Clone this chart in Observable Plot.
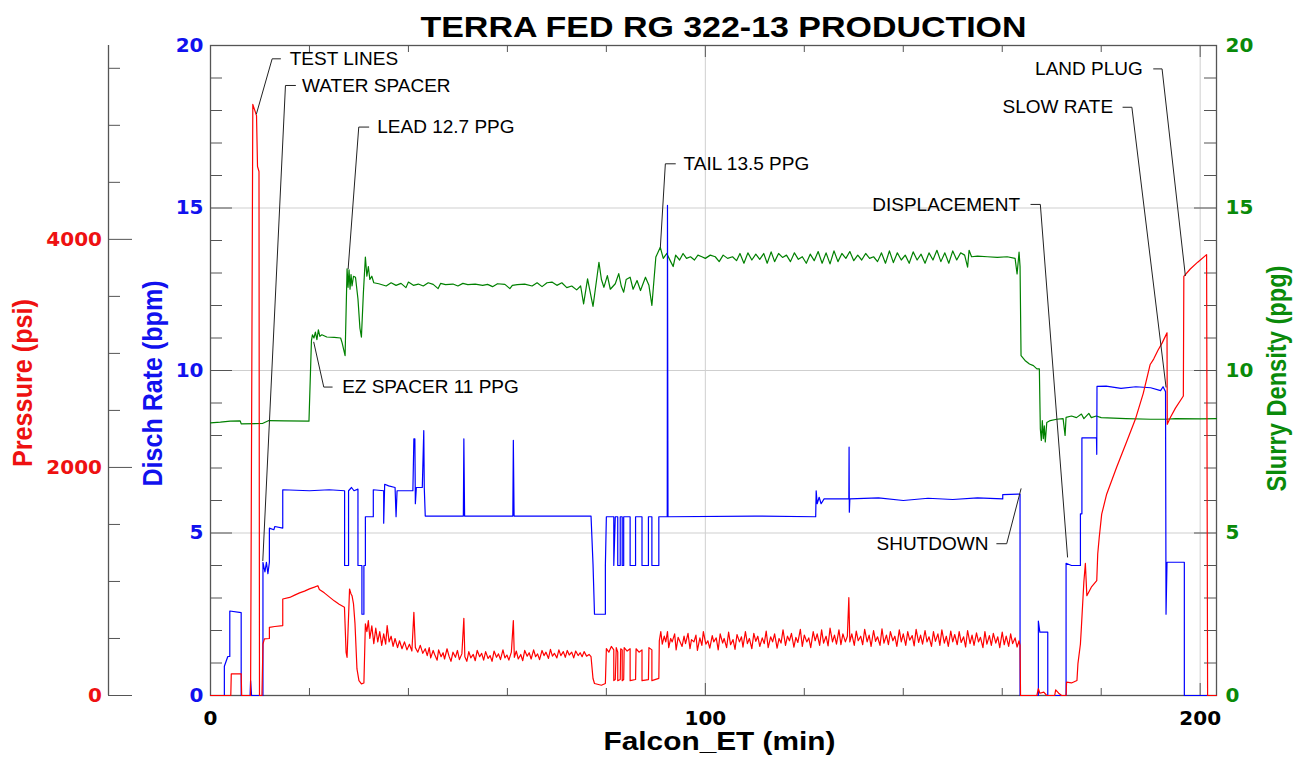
<!DOCTYPE html>
<html>
<head>
<meta charset="utf-8">
<script src="https://cdn.jsdelivr.net/npm/d3@7"></script>
<script src="https://cdn.jsdelivr.net/npm/@observablehq/plot@0.6"></script>
<style>body{margin:0;background:#fff}</style>
</head>
<body>
<div id="chart"></div>
<script>
// ---------- text ----------
const chartTitle = "TERRA FED RG 322-13 PRODUCTION";
const xLabel = "Falcon_ET (min)";
const pressureLabel = "Pressure (psi)";
const rateLabel = "Disch Rate (bpm)";
const densityLabel = "Slurry Density (ppg)";

// ---------- ticks ----------
const xTickLabels = [0, 100, 200];
const xMinorTicks = [20, 40, 60, 80, 120, 140, 160, 180];
const xMajorTicks = [100, 200];
const rateTickLabels = [0, 5, 10, 15, 20];
const rateMinorTicks = [1,2,3,4,6,7,8,9,11,12,13,14,16,17,18,19];
const densityTickLabels = [0, 5, 10, 15, 20];
const pressureTickLabels = [0, 2000, 4000];
const pressureMinorTicks = [500,1000,1500,2500,3000,3500,4500,5000,5500];
const pressureMax = 5700;   // top of pressure axis (rate axis top = 20)
const xMax = 203.3;

// ---------- series: [minutes, value] ----------
const rate = [
[0,0],[2.8,0],[2.8,0.9],[3.5,1.2],[3.9,1.2],[3.9,2.6],[6.2,2.55],[6.2,0],[8.0,0],[8.1,0.45],[8.3,0],
[10.6,0],[10.6,4.1],[11.0,3.8],[11.3,4.1],[11.6,3.75],[11.9,4.1],[11.9,5.15],[12.8,5.1],[13,5.2],[14.6,5.15],
[14.6,6.33],[20,6.3],[24,6.33],[27.1,6.3],[27.1,4.0],[27.9,4.0],[27.9,6.3],[28.5,6.4],[29.0,6.3],[29.8,6.35],
[29.8,4.0],[30.6,4.0],[30.6,2.5],[31.0,2.5],[31.0,4.0],[31.3,4.0],[31.3,5.5],[32.9,5.5],[32.9,6.33],[35.0,6.3],
[35.0,5.3],[35.2,6.5],[36,6.45],[37.3,6.4],[37.5,5.5],[37.7,6.3],[40.9,6.3],[41.1,7.9],[41.3,7.9],[41.4,5.9],
[41.6,6.4],[42.8,6.4],[43.1,8.15],[43.2,6.4],[43.4,5.52],[51.1,5.52],[51.2,7.9],[51.35,5.52],[61.1,5.52],
[61.2,7.85],[61.35,5.52],[76.9,5.52],[77.3,4.05],[77.6,2.5],[79.8,2.5],[79.8,4.0],[80.0,5.5],[81.5,5.5],
[81.5,4.0],[81.8,5.5],[82.3,5.5],[82.3,4.0],[82.8,4.0],[82.8,5.5],[83.2,5.5],[83.2,4.0],[83.5,4.0],[83.5,5.5],
[84.8,5.5],[84.8,4.0],[85.9,4.0],[85.9,5.5],[87.2,5.5],[87.2,4.0],[88.5,4.0],[88.5,5.5],[89.2,5.5],[89.2,4.0],
[90.6,4.0],[90.6,5.5],[92.3,5.5],[92.35,15.08],[92.45,5.5],[110,5.52],[122.3,5.5],[122.4,6.3],[122.6,5.9],
[123,6.1],[123.4,5.9],[124,6.05],[129,6.05],[129.05,7.64],[129.1,5.64],[129.2,6.05],[135,6.08],[140,6.0],
[145,6.07],[150,6.03],[155,6.08],[160.1,6.05],[160.1,6.18],[163.6,6.2],[163.6,0],[167.3,0],[167.3,2.29],
[167.6,1.95],[169.2,1.95],[169.2,0],[172.9,0],[172.9,4.07],[174,4.0],[175.8,4.0],[175.8,5.59],[176.1,5.59],
[176.1,7.93],[179.05,7.93],[179.1,7.42],[179.15,9.51],[181,9.52],[184,9.45],[187,9.5],[190,9.47],[192,9.38],
[192.5,9.5],[193.0,9.35],[193.1,2.5],[193.3,4.1],[196.8,4.1],[196.8,0],[203.3,0]
];

const pressure = [
[0,0],[4.1,0],[4.2,190],[6.2,190],[6.3,0],[8.1,0],[8.55,5184],[9.3,5085],[9.5,4639],[9.8,4595],[9.9,0],
[10.4,0],[10.6,452],[10.9,496],[11.9,500],[11.9,598],[13,605],[14.6,613],[14.6,846],[16,860],[17,880],
[18,900],[19,915],[20,935],[21,950],[21.7,963],[22,930],[23,900],[24,865],[25,830],[26,800],[27.07,773],
[27.4,379],[27.6,335],[28.1,934],[28.4,890],[28.6,875],[28.9,803],[29.2,630],[29.6,233],[30,131],[30.5,102],
[31.0,110],[31.3,628],[31.6,560],[31.9,657],[32.2,500],[32.6,610],[33.0,455],[33.4,590],[33.8,470],[34.2,560],
[34.6,440],[35.0,540],[35.4,450],[35.7,613],[36.1,470],[36.5,520],[36.9,430],[37.3,500],[37.8,420],[38.2,480],
[38.7,410],[39.2,470],[39.7,400],[40.2,450],[40.7,390],[41.1,729],[41.4,420],[41.9,380],[42.4,440],[42.9,370],
[43.4,410],[43.8,350],[44.2,420],[44.5,330],[45.0,395],[45.3,360],[45.8,310],[46.1,400],[46.6,340],[47.0,375],
[47.3,320],[47.8,410],[48.2,345],[48.6,300],[49.0,380],[49.5,335],[49.9,395],[50.3,315],[50.8,365],[51.2,677],
[51.4,340],[51.8,300],[52.2,385],[52.6,330],[53.1,360],[53.5,305],[53.9,395],[54.4,340],[54.8,370],[55.2,310],
[55.6,385],[56.1,325],[56.5,350],[56.9,300],[57.3,390],[57.8,335],[58.2,365],[58.6,315],[59.1,400],[59.5,330],
[59.9,355],[60.3,310],[60.8,380],[61.2,657],[61.4,335],[61.8,390],[62.2,320],[62.7,360],[63.1,305],[63.5,395],
[64.0,345],[64.4,375],[64.8,320],[65.3,400],[65.7,340],[66.1,365],[66.5,315],[67.0,395],[67.4,350],[67.8,380],
[68.3,325],[68.7,405],[69.1,345],[69.5,370],[70.0,330],[70.4,400],[70.8,350],[71.3,385],[71.7,335],[72.1,395],
[72.5,355],[73.0,380],[73.4,330],[73.8,390],[74.3,350],[74.7,375],[75.1,340],[75.5,385],[76.0,345],[76.5,360],
[76.9,340],[77.3,149],[77.6,105],[79.0,90],[79.8,105],[80.0,411],[80.5,380],[81.0,430],[81.5,400],[81.5,131],
[81.8,140],[82.0,420],[82.3,380],[82.3,130],[82.8,140],[82.9,410],[83.2,400],[83.2,130],[83.5,140],[83.6,420],
[84.2,390],[84.8,410],[84.8,130],[85.9,140],[86.0,410],[86.6,380],[87.2,400],[87.2,130],[88.5,140],[88.6,420],
[89.2,400],[89.2,130],[90.6,150],
[90.7,480],[91.0,560],[91.3,450],[91.7,520],[92.0,470],[92.35,560],[92.6,420],[93.0,500],[93.3,470],[93.8,540],
[94.1,400],[94.5,510],[94.8,480],[95.3,430],[95.7,520],[96.0,455],[96.5,545],[96.9,410],[97.2,490],[97.7,470],
[98.1,530],[98.4,395],[98.9,505],[99.3,440],[99.6,560],[100.1,450],[100.5,480],[100.9,415],[101.4,525],[101.7,470],
[102.2,505],[102.6,400],[103.0,540],[103.5,460],[103.8,500],[104.3,420],[104.7,555],[105.1,445],[105.6,490],
[106.0,405],[106.4,535],[106.9,470],[107.3,515],[107.6,425],[108.1,560],[108.5,455],[108.9,500],[109.4,410],
[109.8,545],[110.2,475],[110.6,520],[111.0,430],[111.5,505],[111.9,455],[112.3,565],[112.7,420],[113.2,515],
[113.6,470],[114.0,540],[114.5,415],[114.9,500],[115.3,460],[115.7,575],[116.2,440],[116.6,520],[117.0,480],
[117.4,545],[117.9,425],[118.3,510],[118.7,465],[119.2,580],[119.6,430],[120.0,530],[120.5,470],[120.9,505],
[121.3,420],[121.8,560],[122.2,480],[122.6,540],[123.1,440],[123.5,575],[123.9,460],[124.4,520],[124.8,435],
[125.2,590],[125.7,470],[126.1,530],[126.5,450],[127.0,575],[127.4,445],[127.8,540],[128.3,470],[128.7,520],
[129.0,858],[129.2,470],[129.6,540],[130.1,440],[130.5,565],[130.9,480],[131.4,520],[131.8,445],[132.2,580],
[132.7,470],[133.1,530],[133.5,430],[134.0,570],[134.4,475],[134.8,515],[135.3,440],[135.7,585],[136.1,460],
[136.6,530],[137.0,445],[137.4,560],[137.9,480],[138.3,520],[138.7,430],[139.2,575],[139.6,470],[140.0,540],
[140.5,440],[140.9,560],[141.3,485],[141.8,525],[142.2,435],[142.6,580],[143.1,465],[143.5,530],[143.9,450],
[144.4,570],[144.8,470],[145.2,515],[145.7,430],[146.1,560],[146.5,475],[147.0,540],[147.4,440],[147.8,575],
[148.3,460],[148.7,520],[149.1,430],[149.6,565],[150.0,470],[150.4,535],[150.9,445],[151.3,560],[151.7,465],
[152.2,515],[152.6,425],[153.0,570],[153.5,455],[153.9,530],[154.3,440],[154.8,550],[155.2,470],[155.6,510],
[156.1,420],[156.5,560],[156.9,450],[157.4,525],[157.8,440],[158.2,545],[158.7,460],[159.1,515],[159.5,420],
[160.0,555],[160.4,445],[160.8,520],[161.3,430],[161.7,540],[162.1,455],[162.6,505],[163.0,425],[163.4,480],
[163.6,440],[163.7,0],[167.0,0],[167.3,60],[167.6,20],[168.4,30],[169,0],[170.6,0],
[170.8,50],[171.4,20],[172,0],[172.9,0],[173.0,117],[174,110],[175.1,131],[175.3,280],[175.8,452],[176.0,600],
[176.5,1000],[176.8,1158],[177.1,875],[178,950],[179.1,1007],[179.3,1243],[179.6,1386],[180.1,1590],[181.1,1765],
[183.1,1999],[185.2,2232],[186.9,2422],[188.5,2650],[189.9,2903],[190.6,2950],[191.5,3030],[192.3,3090],
[193.3,3180],[193.35,2378],[194,2440],[195,2520],[196.6,2626],[196.7,3676],[198,3740],[199.5,3800],
[201.3,3866],[201.5,0],[203.3,0]
];

const density = [
[0,8.39],[2,8.41],[4,8.44],[6,8.45],[6.2,8.36],[10.5,8.37],[11.8,8.46],[15,8.45],[19.9,8.44],[20.4,10.92],
[20.6,11.1],[20.9,11.0],[21.2,11.18],[21.5,10.95],[21.8,11.25],[22.1,11.05],[22.5,11.1],[23.5,11.03],[25,11.02],
[26.3,11.0],[26.6,10.85],[27.2,10.46],[27.6,13.13],[27.8,12.56],[28.0,13.1],[28.2,12.5],[28.4,12.95],[28.6,12.6],
[28.9,12.9],[29.3,12.87],[29.8,12.2],[30.2,11.3],[30.5,11.03],[30.9,12.4],[31.3,13.49],[31.6,12.9],[31.9,13.2],
[32.2,12.8],[32.6,12.9],[33,12.7],[34,12.67],[35.5,12.6],[36.5,12.7],[37.5,12.62],[38.5,12.68],[39.5,12.55],
[40,12.72],[41,12.62],[42,12.66],[43,12.6],[44,12.7],[45,12.65],[46,12.52],[46.5,12.68],[47.5,12.64],[49,12.66],
[50,12.6],[51,12.68],[52,12.64],[53.5,12.66],[55,12.62],[56,12.65],[57,12.58],[58,12.67],[59.5,12.65],
[60.5,12.52],[61,12.62],[62,12.64],[63.5,12.66],[65,12.6],[66,12.7],[67,12.58],[68,12.7],[69,12.72],[70,12.62],
[71,12.7],[72,12.55],[73,12.6],[74,12.48],[74.8,12.6],[75.4,12.05],[76.2,12.82],[77.3,11.97],[78.5,13.33],
[79,12.8],[79.5,12.56],[80.2,12.92],[80.8,12.5],[81.8,12.67],[82.5,12.98],[83,12.6],[83.5,12.41],[84,12.8],
[84.8,12.87],[85.4,12.5],[86.2,12.77],[86.9,12.46],[87.9,12.87],[88.6,12.62],[89.2,12.0],[90.0,13.49],
[90.9,13.79],[91.5,13.45],[92.2,13.6],[93,13.35],[93.5,13.2],[94,13.55],[94.8,13.4],[95.5,13.6],[96.2,13.45],
[97,13.5],[97.8,13.4],[98.5,13.55],[99.3,13.5],[100,13.45],[101,13.55],[102,13.5],[102.8,13.35],[103.6,13.55],
[104.5,13.45],[105.5,13.5],[106.3,13.38],[107,13.6],[107.8,13.3],[108.6,13.62],[109.4,13.4],[110.2,13.58],
[111,13.42],[111.8,13.6],[112.5,13.3],[113.3,13.65],[114,13.35],[114.8,13.6],[115.6,13.48],[116.4,13.55],
[117.2,13.35],[118,13.62],[118.8,13.42],[119.6,13.5],[120.4,13.3],[121.2,13.58],[122,13.38],[122.8,13.66],
[123.6,13.3],[124.4,13.62],[125.2,13.28],[126,13.68],[126.8,13.35],[127.6,13.6],[128.4,13.45],[129.2,13.66],
[130,13.38],[130.8,13.55],[131.6,13.4],[132.4,13.6],[133.2,13.45],[134,13.5],[134.8,13.35],[135.6,13.62],
[136.4,13.3],[137.2,13.68],[138,13.32],[138.8,13.62],[139.6,13.4],[140.4,13.55],[141.2,13.3],[142,13.65],
[142.8,13.4],[143.6,13.58],[144.4,13.3],[145.2,13.62],[146,13.4],[146.8,13.7],[147.6,13.35],[148.4,13.62],
[149.2,13.3],[150,13.68],[150.8,13.4],[151.6,13.62],[152.4,13.55],[153.0,13.18],[153.3,13.7],[153.8,13.5],
[155,13.52],[157,13.5],[159,13.48],[161,13.5],[162.6,13.45],[163.0,12.97],[163.4,13.64],[163.6,13.2],
[163.8,10.46],[164.6,10.31],[165.5,10.2],[166.3,10.15],[167.0,10.05],[167.5,10.05],[167.7,8.2],[167.9,7.85],
[168.1,8.46],[168.3,7.9],[168.5,8.3],[168.7,7.8],[169,8.4],[169.7,8.46],[171,8.5],[172.3,8.52],[172.7,8.0],
[172.9,8.56],[174,8.6],[175,8.55],[176,8.66],[176.5,8.52],[177.5,8.68],[178,8.55],[179,8.6],[180,8.55],
[185,8.52],[190,8.5],[193,8.5],[195,8.52],[200,8.51],[203.3,8.52]
];

// ---------- annotations (minutes, rate-axis units) ----------
const annoLabels = ["TEST LINES","WATER SPACER","LEAD 12.7 PPG","EZ SPACER 11 PPG","TAIL 13.5 PPG",
                    "DISPLACEMENT","SLOW RATE","LAND PLUG","SHUTDOWN"];
const annoTextT  = [16.0, 18.5, 33.7, 26.6, 95.6, 163.6, 182.4, 188.4, 157.2];
const annoTextV  = [19.59, 18.77, 17.49, 9.49, 16.36, 15.11, 18.1, 19.28, 4.67];
const annoAlign  = ["start","start","start","start","start","end","end","end","end"];
const annoLeaders = [
  [[14.14,19.59],[12.46,19.59],[9.29,17.9]],
  [[17.17,18.77],[15.15,18.77],[10.57,4.15]],
  [[31.98,17.49],[29.96,17.49],[27.82,13.13]],
  [[24.59,9.49],[22.89,9.49],[20.87,10.87]],
  [[93.94,16.36],[91.92,16.36],[90.91,13.79]],
  [[165.8,15.11],[167.7,15.11],[173.2,4.26]],
  [[184.4,18.1],[186.2,18.1],[193.1,9.49]],
  [[190.6,19.28],[192.3,19.28],[197.0,12.92]],
  [[158.9,4.67],[160.9,4.67],[163.8,6.36]]
];

// ---------- build ----------
const W = 1302, H = 763, mL = 210, mR = 86, mT = 45, mB = 68;
const fw = W - mL - mR, fh = H - mT - mB;
const pConv = v => v * 20 / pressureMax;

const RED = "#ff0000", BLUE = "#0000ff", GREEN = "#008000";
const RED_T = "#ee1111", BLUE_T = "#1111ee", GREEN_T = "#0a8a0a";
const numFont = "DejaVu Sans";
const txtFont = "Liberation Sans, Arial, sans-serif";

const leaderRows = annoLeaders.flatMap((pts, i) => pts.map(p => ({id: i, t: p[0], v: p[1]})));
const annoRows = annoLabels.map((l, i) => ({label: l, t: annoTextT[i], v: annoTextV[i], align: annoAlign[i]}));

const plot = Plot.plot({
  width: W, height: H,
  marginLeft: mL, marginRight: mR, marginTop: mT, marginBottom: mB,
  style: {background: "#fff", overflow: "visible"},
  x: {domain: [0, xMax], axis: null},
  y: {domain: [0, 20], axis: null},
  marks: [
    // grid
    Plot.ruleY([5, 10, 15], {stroke: "#cfcfcf", strokeWidth: 1}),
    Plot.ruleX(xMajorTicks, {stroke: "#cfcfcf", strokeWidth: 1}),
    // frame & axis ticks
    Plot.frame({stroke: "#555", strokeWidth: 1.3}),
    Plot.ruleY(rateMinorTicks, {insetRight: fw - 12, stroke: "#555"}),
    Plot.ruleY(rateTickLabels, {insetRight: fw - 22, stroke: "#555"}),
    Plot.ruleY(rateMinorTicks, {insetLeft: fw - 12, stroke: "#555"}),
    Plot.ruleY(densityTickLabels, {insetLeft: fw - 22, stroke: "#555"}),
    Plot.ruleX(xMinorTicks, {insetTop: fh - 7, stroke: "#555"}),
    Plot.ruleX(xMinorTicks, {insetBottom: fh - 7, stroke: "#555"}),
    Plot.ruleX(xMajorTicks, {insetTop: fh - 12, stroke: "#555"}),
    Plot.ruleX(xMajorTicks, {insetBottom: fh - 12, stroke: "#555"}),
    // pressure axis (offset left)
    Plot.ruleX([0], {dx: -102, stroke: "#555", strokeWidth: 1.3}),
    Plot.ruleY(pressureTickLabels.map(pConv), {dx: -102, insetRight: fw - 24, stroke: "#555"}),
    Plot.ruleY(pressureMinorTicks.map(pConv), {dx: -102, insetRight: fw - 12, stroke: "#555"}),
    // tick labels
    Plot.text(pressureTickLabels, {y: d => pConv(d), text: d => String(d), frameAnchor: "left", dx: -108.5,
      textAnchor: "end", lineAnchor: "middle", fill: RED_T, fontSize: 20, fontWeight: "bold", fontFamily: numFont}),
    Plot.text(rateTickLabels, {y: d => d, text: d => String(d), frameAnchor: "left", dx: -7,
      textAnchor: "end", lineAnchor: "middle", fill: BLUE_T, fontSize: 20, fontWeight: "bold", fontFamily: numFont}),
    Plot.text(densityTickLabels, {y: d => d, text: d => String(d), frameAnchor: "right", dx: 9,
      textAnchor: "start", lineAnchor: "middle", fill: GREEN_T, fontSize: 20, fontWeight: "bold", fontFamily: numFont}),
    Plot.text(xTickLabels, {x: d => d, text: d => String(d), frameAnchor: "bottom", dy: 15,
      lineAnchor: "top", fill: "#000", fontSize: 20, fontWeight: "bold", fontFamily: numFont}),
    // titles
    Plot.text([chartTitle], {text: d => d, frameAnchor: "top", dx: 10, dy: -18, lineAnchor: "middle",
      textAnchor: "middle", fontSize: 30, fontWeight: "bold", fontFamily: txtFont, fill: "#000"}),
    Plot.text([xLabel], {text: d => d, frameAnchor: "bottom", dx: 6, dy: 46.5, lineAnchor: "middle",
      textAnchor: "middle", fontSize: 25.5, fontWeight: "bold", fontFamily: txtFont, fill: "#000"}),
    Plot.text([pressureLabel], {text: d => d, frameAnchor: "left", dx: -187, dy: 12.5, rotate: -90,
      textAnchor: "middle", lineAnchor: "middle", fontSize: 27, fontWeight: "bold", fontFamily: txtFont, fill: RED_T}),
    Plot.text([rateLabel], {text: d => d, frameAnchor: "left", dx: -57, dy: 13, rotate: -90,
      textAnchor: "middle", lineAnchor: "middle", fontSize: 27, fontWeight: "bold", fontFamily: txtFont, fill: BLUE_T}),
    Plot.text([densityLabel], {text: d => d, frameAnchor: "right", dx: 61, dy: 8, rotate: -90,
      textAnchor: "middle", lineAnchor: "middle", fontSize: 27, fontWeight: "bold", fontFamily: txtFont, fill: GREEN_T}),
    // series
    Plot.line(density, {x: d => d[0], y: d => d[1], stroke: GREEN, strokeWidth: 1.2}),
    Plot.line(rate, {x: d => d[0], y: d => d[1], stroke: BLUE, strokeWidth: 1.2}),
    Plot.line(pressure, {x: d => d[0], y: d => pConv(d[1]), stroke: RED, strokeWidth: 1.2}),
    // annotations
    Plot.line(leaderRows, {x: "t", y: "v", z: "id", stroke: "#222", strokeWidth: 1}),
    Plot.text(annoRows.filter(d => d.align === "start"), {x: "t", y: "v", text: "label", textAnchor: "start",
      lineAnchor: "middle", fontSize: 19, fontFamily: txtFont, fill: "#000"}),
    Plot.text(annoRows.filter(d => d.align === "end"), {x: "t", y: "v", text: "label", textAnchor: "end",
      lineAnchor: "middle", fontSize: 19, fontFamily: txtFont, fill: "#000"})
  ]
});

// stretch a few titles to the reference widths
const fitWidths = {};
fitWidths[chartTitle] = 606;
fitWidths[xLabel] = 232;
fitWidths[pressureLabel] = 168;
fitWidths[rateLabel] = 206;
fitWidths[densityLabel] = 226;
d3.select(plot).selectAll("text").each(function() {
  const L = fitWidths[this.textContent];
  if (L) { this.setAttribute("textLength", L); this.setAttribute("lengthAdjust", "spacingAndGlyphs"); }
});

document.getElementById("chart").appendChild(plot);
</script>
</body>
</html>
